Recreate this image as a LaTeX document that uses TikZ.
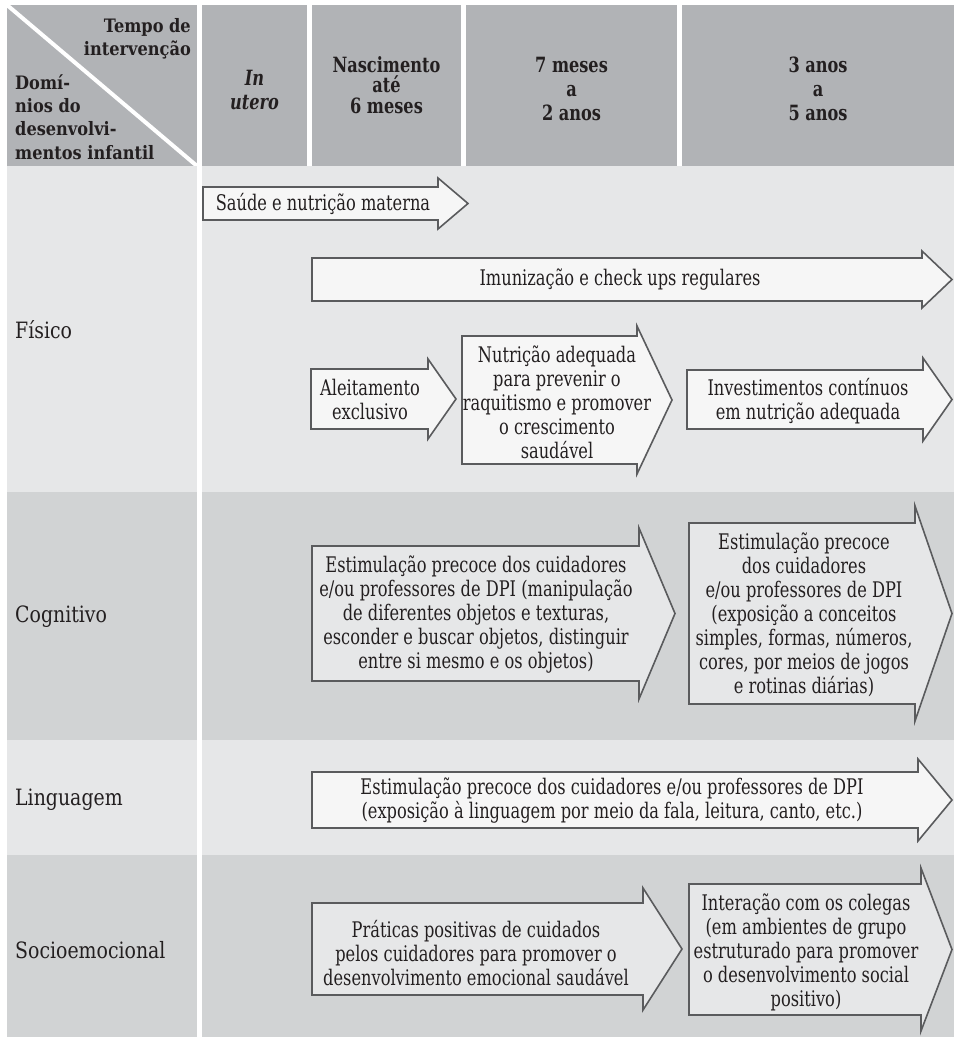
\documentclass[tikz,border=0pt]{standalone}
\usepackage{fontspec}
\setmainfont[FakeStretch=0.755]{DejaVu Serif}
\newfontfamily\lblfam[FakeStretch=0.84]{DejaVu Serif}
\newfontfamily\cornerfam[FakeStretch=0.875]{DejaVu Serif}
\newfontfamily\colfam[FakeStretch=0.77]{DejaVu Serif}
\definecolor{hdr}{HTML}{B1B3B6}
\definecolor{rowL}{HTML}{E6E7E8}
\definecolor{rowD}{HTML}{D1D3D4}
\definecolor{arL}{HTML}{F6F6F6}
\definecolor{arD}{HTML}{E6E7E8}
\definecolor{edgec}{HTML}{5A5B5D}
\definecolor{ink}{HTML}{231F20}
\newcommand{\mybody}{\fontsize{21.5}{24}\selectfont}
\newcommand{\mylbl}{\lblfam\fontsize{22.5}{26}\selectfont}
\newcommand{\mycorner}{\cornerfam\fontsize{18.5}{23.5}\selectfont\bfseries}
\newcommand{\mycol}{\colfam\fontsize{21}{24}\selectfont\bfseries}
% #1 x-left, #2 y-top, #3 y-bottom, #4 x-head, #5 head extension, #6 x-tip, #7 fill
\newcommand{\arrowshape}[7]{%
  \filldraw[arrowline, fill=#7] (#1,#2) -- (#4,#2) -- (#4,#2-#5) -- (#6,{(#2+#3)/2})
    -- (#4,#3+#5) -- (#4,#3) -- (#1,#3) -- cycle;}
\tikzset{
  arrowline/.style={draw=edgec, line width=1.6pt, line join=miter},
  txt/.style={align=center, inner sep=0pt, font=\mybody, text=ink},
  lbl/.style={anchor=west, inner sep=0pt, font=\mylbl, text=ink},
  corner/.style={inner sep=0pt, font=\mycorner, text=ink},
  hd/.style={align=center, inner sep=0pt, font=\mycol, text=ink},
}
\begin{document}
\begin{tikzpicture}[x=1pt,y=-1pt]
\useasboundingbox (0,0) rectangle (954,1039);
\fill[white] (0,0) rectangle (954,1039);
% header
\fill[hdr] (7,5) rectangle (197,166);
\fill[hdr] (202,5) rectangle (307,166);
\fill[hdr] (312,5) rectangle (461,166);
\fill[hdr] (466,5) rectangle (677,166);
\fill[hdr] (682,5) rectangle (954,166);
\draw[white, line width=4pt] (7,5) -- (197,166);
% rows
\fill[rowL] (7,166) rectangle (197,492);
\fill[rowL] (202,166) rectangle (954,492);
\fill[rowD] (7,492) rectangle (197,740);
\fill[rowD] (202,492) rectangle (954,740);
\fill[rowL] (7,740) rectangle (197,855);
\fill[rowL] (202,740) rectangle (954,855);
\fill[rowD] (7,855) rectangle (197,1037);
\fill[rowD] (202,855) rectangle (954,1037);
% header texts
\node[corner, align=right, anchor=north east] (tempo) at (191,18) {Tempo de\\intervenção};
\node[corner, align=left, anchor=north west] (dominios) at (15,74) {Domí-\\nios do\\desenvolvi-\\mentos infantil};
\node[hd] (inutero) at (254.5,90) {\itshape In\\\itshape utero};
\node[hd, font=\colfam\fontsize{21}{20.5}\selectfont\bfseries] (nasc) at (386.5,85) {Nascimento\\até\\6 meses};
\node[hd] (sete) at (571.5,89) {7 meses\\a\\2 anos};
\node[hd] (tres) at (818,89) {3 anos\\a\\5 anos};
% row labels
\node[lbl] (fisico) at (15,330) {Físico};
\node[lbl] (cognitivo) at (15,617) {Cognitivo};
\node[lbl] (linguagem) at (15,800) {Linguagem};
\node[lbl] (socio) at (15,950) {Socioemocional};
% Fisico arrows
\arrowshape{203}{187}{220}{438}{9}{468}{arL}
\node[txt] (saude) at (323,204) {Saúde e nutrição materna};
\arrowshape{312}{258}{301}{922}{7}{952}{arL}
\node[txt] (imun) at (620,280) {Imunização e check ups regulares};
\arrowshape{311}{369}{429}{428}{10}{456}{arL}
\node[txt] (aleit) at (370,399) {Aleitamento\\exclusivo};
\arrowshape{462}{336}{464}{637}{10}{672}{arL}
\node[txt] (nutri) at (557,402) {Nutrição adequada\\para prevenir o\\raquitismo e promover\\o crescimento\\saudável};
\arrowshape{687}{370}{429}{923}{12}{952}{arL}
\node[txt] (invest) at (808,401) {Investimentos contínuos\\em nutrição adequada};
% Cognitivo arrows
\arrowshape{312}{546}{681}{639}{18}{675}{arD}
\node[txt] (cog1) at (476,615) {Estimulação precoce dos cuidadores\\e/ou professores de DPI (manipulação\\de diferentes objetos e texturas,\\esconder e buscar objetos, distinguir\\entre si mesmo e os objetos)};
\arrowshape{689}{523}{704}{915}{17}{952}{arD}
\node[txt] (cog2) at (804,615) {Estimulação precoce\\dos cuidadores\\e/ou professores de DPI\\(exposição a conceitos\\simples, formas, números,\\cores, por meios de jogos\\e rotinas diárias)};
% Linguagem arrow
\arrowshape{312}{772}{828}{918}{13}{952}{arL}
\node[txt] (ling) at (612,801) {Estimulação precoce dos cuidadores e/ou professores de DPI\\(exposição à linguagem por meio da fala, leitura, canto, etc.)};
% Socioemocional arrows
\arrowshape{312}{903}{995}{643}{15}{682}{arD}
\node[txt] (soc1) at (476,953) {Práticas positivas de cuidados\\pelos cuidadores para promover o\\desenvolvimento emocional saudável};
\arrowshape{689}{884}{1015}{921}{16}{952}{arD}
\node[txt] (soc2) at (806,952) {Interação com os colegas\\(em ambientes de grupo\\estruturado para promover\\o desenvolvimento social\\positivo)};
\end{tikzpicture}
\end{document}
